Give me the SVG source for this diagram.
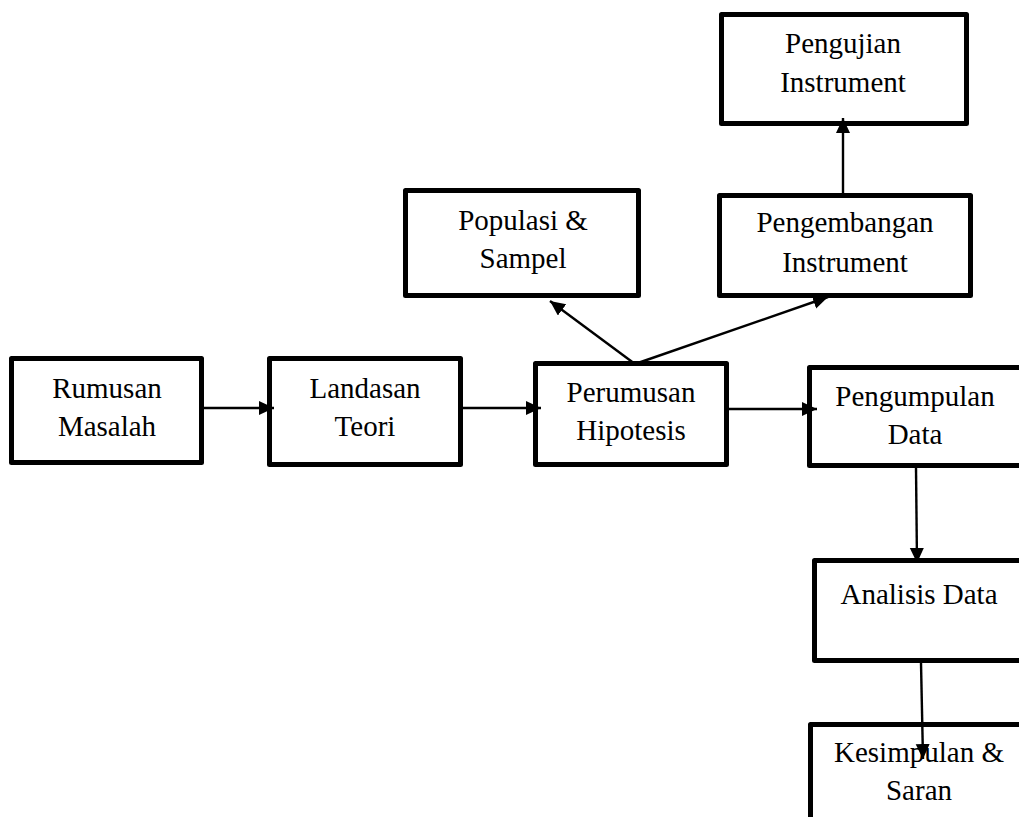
<svg xmlns="http://www.w3.org/2000/svg" width="1019" height="817" viewBox="0 0 1019 817">
<style>
.box{fill:#fff;stroke:#000;stroke-width:5;stroke-linejoin:round}
.t{font-family:"Liberation Serif","Times New Roman",serif;font-size:29px;fill:#000;text-anchor:middle}
.c{stroke:#000;stroke-width:2.4;fill:none;marker-end:url(#ah)}
</style>
<defs>
<marker id="ah" markerUnits="userSpaceOnUse" markerWidth="17" markerHeight="15" refX="15" refY="7" orient="auto">
<path d="M0,0 L15,7 L0,14 Z" fill="#000"/>
</marker>
</defs>
<rect width="1019" height="817" fill="#fff"/>
<g id="rumusan">
<rect class="box" x="11.5" y="358.5" width="190" height="104"/>
<text class="t" x="107" y="398">Rumusan</text>
<text class="t" x="107" y="436">Masalah</text>
</g>
<g id="landasan">
<rect class="box" x="269.5" y="358.5" width="191" height="106"/>
<text class="t" x="365" y="398">Landasan</text>
<text class="t" x="365" y="436">Teori</text>
</g>
<g id="perumusan">
<rect class="box" x="535.5" y="363.5" width="191" height="101"/>
<text class="t" x="631" y="402">Perumusan</text>
<text class="t" x="631" y="440">Hipotesis</text>
</g>
<g id="pengumpulan">
<rect class="box" x="809.5" y="367.5" width="230" height="98"/>
<text class="t" x="915" y="406">Pengumpulan</text>
<text class="t" x="915" y="444">Data</text>
</g>
<g id="analisis">
<rect class="box" x="814.5" y="560.5" width="230" height="100"/>
<text class="t" x="919" y="604">Analisis Data</text>
</g>
<g id="kesimpulan">
<rect class="box" x="810.5" y="724.5" width="230" height="120"/>
<text class="t" x="919" y="762">Kesimpulan &amp;</text>
<text class="t" x="919" y="800">Saran</text>
</g>
<g id="populasi">
<rect class="box" x="405.5" y="190.5" width="233" height="105"/>
<text class="t" x="523" y="230">Populasi &amp;</text>
<text class="t" x="523" y="268">Sampel</text>
</g>
<g id="pengembangan">
<rect class="box" x="719.5" y="195.5" width="251" height="100"/>
<text class="t" x="845" y="232">Pengembangan</text>
<text class="t" x="845" y="272">Instrument</text>
</g>
<g id="pengujian">
<rect class="box" x="721.5" y="14.5" width="245" height="109"/>
<text class="t" x="843" y="53">Pengujian</text>
<text class="t" x="843" y="92">Instrument</text>
</g>
<g id="connectors">
<line class="c" x1="204" y1="408" x2="274" y2="408"/>
<line class="c" x1="463" y1="408" x2="541" y2="408"/>
<line class="c" x1="729" y1="409" x2="817" y2="409"/>
<line class="c" x1="916" y1="468" x2="917" y2="563"/>
<line class="c" x1="921" y1="663" x2="923" y2="759"/>
<line class="c" x1="635" y1="364" x2="550" y2="301"/>
<line class="c" x1="635" y1="364" x2="828" y2="297"/>
<line class="c" x1="843" y1="193" x2="843" y2="118"/>
</g>
</svg>
